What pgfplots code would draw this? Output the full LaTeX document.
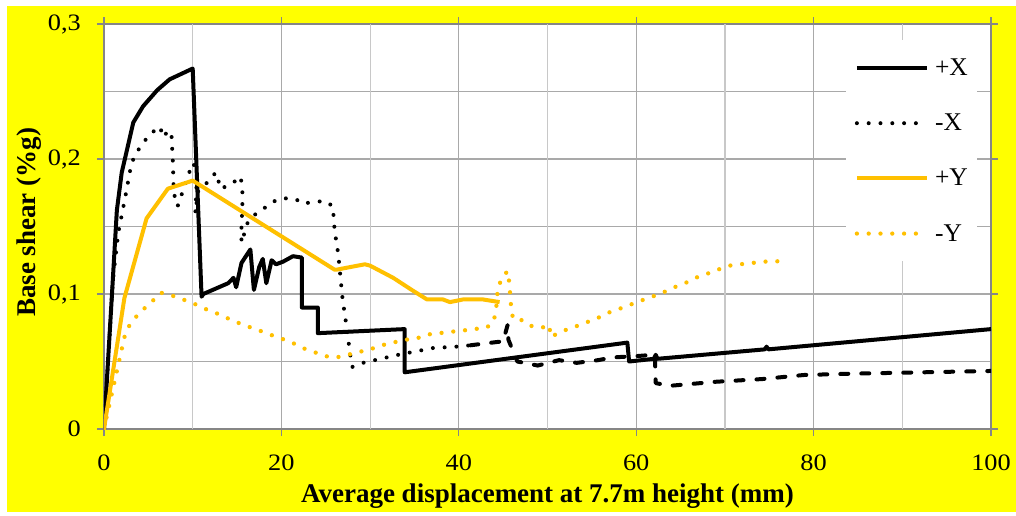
\documentclass[border=0pt]{standalone}
\usepackage{fontspec}
\setmainfont{Liberation Serif}
\newfontfamily\tickfont[FakeStretch=1.12]{Liberation Serif}
\usepackage{pgfplots}
\pgfplotsset{compat=1.18}
\definecolor{orng}{HTML}{FFC000}
\definecolor{ylw}{HTML}{FFFF00}
\definecolor{gridd}{HTML}{8C8C8C}
\definecolor{gridl}{HTML}{C8C8C8}
\definecolor{axg}{HTML}{868686}
\begin{document}
\begin{tikzpicture}
\path[use as bounding box] (-104pt,-86pt) rectangle (912pt,429pt);
\fill[ylw] (-97pt,-83pt) rectangle (912pt,423pt);
\begin{axis}[
  at={(0,0)}, anchor=south west,
  scale only axis, width=887pt, height=405pt,
  xmin=0, xmax=100, ymin=0, ymax=0.3,
  axis background/.style={fill=white},
  xtick={0,20,40,60,80,100},
  xticklabels={0,20,40,60,80,100},
  ytick={0,0.1,0.2,0.3},
  yticklabels={0,{0,1},{0,2},{0,3}},
  minor ytick={0.05,0.15,0.25},
  extra x ticks={10,30,50,70,90},
  extra x tick labels={},
  extra x tick style={major tick length=0pt, major grid style={draw=gridl, line width=1.2pt}},
  xmajorgrids, ymajorgrids, yminorgrids,
  major grid style={draw=gridd!75, line width=1.2pt},
  minor grid style={draw=gridd!75, line width=1.2pt},
  tick align=outside, major tick length=7pt, minor tick length=0pt,
  tick style={draw=axg, line width=1.2pt},
  axis line style={draw=axg, line width=1.2pt},
  xticklabel style={font=\fontsize{23.5}{27}\tickfont, anchor=north, inner sep=0pt, yshift=-19pt},
  yticklabel style={font=\fontsize{23.5}{27}\tickfont, anchor=east, inner sep=0pt, xshift=-16pt},
  every axis x label/.style={at={(axis description cs:0.5,-0.1827)}, anchor=base},
  every axis y label/.style={at={(axis description cs:-0.0767,0.51)}, rotate=90, anchor=base},
  label style={font=\fontsize{27}{32}\selectfont\bfseries},
  xlabel={Average displacement at 7.7m height (mm)},
  ylabel={Base shear (\%g)},
  legend image code/.code={\draw[#1] (0pt,0pt) -- (70pt,0pt);},
  legend cell align=left,
  legend style={at={(axis cs:83.6,0.288)}, anchor=north west, fill=white, draw=none,
    inner xsep=9pt, inner ysep=18.5pt, font=\fontsize{25.5}{30}\selectfont,
    row sep=37pt, nodes={inner sep=0pt},
    /tikz/every odd column/.append style={column sep=6pt}},
  line join=round,
]
% +X
\addplot[black, line width=4pt] coordinates {
(0,0) (0.9,0.100) (1.45,0.162) (2.0,0.190) (2.6,0.207) (3.3,0.227) (4.4,0.239)
(6.0,0.251) (7.4,0.259) (10.0,0.267) (11.0,0.098) (11.2,0.100) (14.0,0.108)
(14.6,0.112) (14.9,0.105) (15.5,0.123) (16.0,0.128) (16.5,0.133) (16.9,0.103)
(17.5,0.120) (17.9,0.126) (18.3,0.108) (18.9,0.125) (19.4,0.122) (20.2,0.124)
(21.3,0.128) (22.3,0.127) (22.3,0.090) (24.1,0.090) (24.1,0.071) (33.9,0.074)
(33.9,0.042) (59.0,0.064) (59.2,0.050) (62.0,0.052) (62.2,0.055) (62.4,0.052)
(74.5,0.059) (74.7,0.061) (74.9,0.059) (100,0.074)
};
\addlegendentry{+X}
% -X dotted part
\addplot[black, line width=4pt, line cap=round, dash pattern=on 0pt off 11.8pt] coordinates {
(0,0) (1.0,0.110) (1.6,0.145) (2.4,0.172) (3.1,0.197) (3.7,0.205) (4.4,0.212)
(5.3,0.219) (6.3,0.224) (6.7,0.216) (7.2,0.221) (7.6,0.219) (7.8,0.193) (7.8,0.184)
(8.0,0.170) (8.3,0.165) (9.5,0.188) (10.0,0.197) (10.5,0.192) (10.4,0.175)
(10.3,0.160) (10.6,0.176) (11.7,0.183) (12.6,0.190) (12.9,0.184) (13.1,0.178)
(14.3,0.181) (15.4,0.187) (15.6,0.178) (15.6,0.165) (15.5,0.150) (15.5,0.138)
(16.2,0.153) (17.2,0.160) (18.4,0.165) (19.5,0.170) (20.7,0.171) (21.7,0.170)
(22.3,0.167) (23.6,0.168) (24.9,0.169) (25.8,0.165) (26.0,0.147) (26.4,0.130)
(26.9,0.096) (27.3,0.078) (27.8,0.053) (28.0,0.046) (29.2,0.049) (33.2,0.055)
(37.1,0.060) (39.7,0.061) (41.3,0.062)
};
\addlegendentry{-X}
% -X later part (appears dashed)
\addplot[black, line width=4pt, line cap=round, dash pattern=on 8pt off 13pt, forget plot] coordinates {
(41.3,0.062) (45.0,0.065) (45.5,0.077) (45.6,0.066) (46.6,0.050) (48.9,0.047)
(51.3,0.051) (53.3,0.049) (55.7,0.051) (57.3,0.053) (60.0,0.054) (62.1,0.055)
(62.2,0.034) (63.8,0.032) (69.0,0.035) (74.2,0.037) (78.9,0.040) (84.4,0.041)
(92.3,0.042) (100,0.043)
};
% +Y
\addplot[orng, line width=4pt] coordinates {
(0,0) (2.3,0.097) (4.8,0.156) (7.2,0.178) (10.0,0.184) (26.0,0.118) (26.2,0.118)
(29.4,0.122) (30.0,0.121) (32.6,0.112) (34.7,0.103) (36.4,0.096) (38.2,0.096)
(39.0,0.094) (40.5,0.096) (42.7,0.096) (44.6,0.094)
};
\addlegendentry{+Y}
% -Y
\addplot[orng, line width=4.3pt, line cap=round, dash pattern=on 0pt off 11.8pt] coordinates {
(0,0) (2.3,0.068) (2.8,0.076) (3.6,0.083) (4.5,0.089) (5.5,0.095) (6.4,0.101)
(7.6,0.099) (8.9,0.096) (10.1,0.093) (11.4,0.089) (12.6,0.086) (13.6,0.083)
(15.0,0.079) (16.2,0.076) (17.5,0.073) (18.7,0.070) (20.0,0.067) (21.2,0.064)
(22.4,0.060) (23.7,0.057) (24.9,0.054) (26.2,0.053) (27.5,0.055) (28.7,0.057)
(30.0,0.059) (31.3,0.062) (32.6,0.064) (33.8,0.066) (35.2,0.067) (36.5,0.070)
(37.8,0.071) (39.1,0.072) (40.5,0.073) (41.7,0.074) (43.1,0.075) (43.9,0.079)
(44.2,0.088) (44.4,0.105) (45.0,0.113) (45.5,0.117) (45.7,0.108) (45.8,0.099)
(45.9,0.090) (46.1,0.082) (46.8,0.082) (47.8,0.077) (49.0,0.075) (50.4,0.076)
(50.1,0.070) (50.6,0.069) (51.9,0.073) (53.2,0.076) (54.4,0.079) (55.6,0.082)
(56.8,0.086) (58.1,0.089) (59.3,0.092) (60.5,0.095) (61.8,0.098) (63.0,0.101)
(64.3,0.105) (65.5,0.108) (66.7,0.112) (68.0,0.115) (69.2,0.118) (70.5,0.121)
(71.7,0.122) (73.1,0.123) (74.4,0.124) (75.6,0.124) (77.0,0.125)
};
\addlegendentry{-Y}
\end{axis}
\end{tikzpicture}
\end{document}
